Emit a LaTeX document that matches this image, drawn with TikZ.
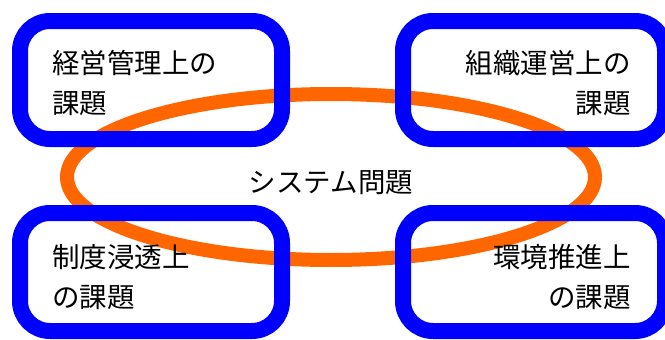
\documentclass[tikz,border=0pt]{standalone}
\usepackage{fontspec}
\setmainfont{Noto Sans CJK JP}
\begin{document}
\begin{tikzpicture}[x=1pt,y=-1pt,
  box/.style={draw=blueline,line width=16pt,rounded corners=30pt},
  loop/.style={draw=orangeline,line width=14pt},
  lbl/.style={font=\fontsize{27.5pt}{40pt}\selectfont,inner sep=0pt},
]
\definecolor{blueline}{HTML}{0000FF}
\definecolor{orangeline}{HTML}{FF6600}
\useasboundingbox (0,0) rectangle (665,340);
\draw[loop] (331,177) ellipse [x radius=264,y radius=83];
\node[lbl] (sys) at (331,183) {システム問題};
\draw[box] (20,21) rectangle (282,139);
\draw[box] (403,21) rectangle (665,139);
\draw[box] (20,213) rectangle (282,331);
\draw[box] (403,213) rectangle (665,331);
\node[lbl,anchor=west,align=left] (tl) at (52,83) {経営管理上の\\課題};
\node[lbl,anchor=east,align=right] (tr) at (631,83) {組織運営上の\\課題};
\node[lbl,anchor=west,align=left] (bl) at (52,277) {制度浸透上\\の課題};
\node[lbl,anchor=east,align=right] (br) at (631,277) {環境推進上\\の課題};
\end{tikzpicture}
\end{document}
